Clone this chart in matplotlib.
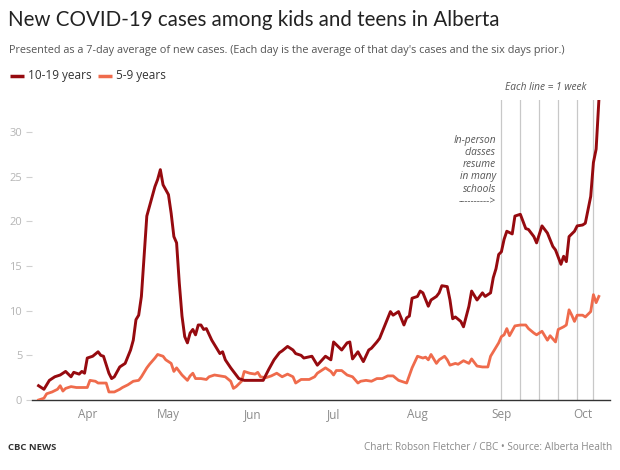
import pandas as pd
import matplotlib.pyplot as plt
import matplotlib.dates as mdates

# days counted from April 1 2020, 7-day average of new cases
days_teens = [-18, -16, -14, -12, -10, -8, -6, -5, -3, -2, -1, 0, 2, 4, 5, 6, 8, 9, 10, 12,
              14, 16, 17, 18, 19, 20, 21, 22, 24, 25, 26, 27, 28, 30, 31, 32, 33, 34, 35, 36,
              37, 38, 39, 40, 41, 42, 43, 44, 46, 47, 49, 50, 51, 53, 55, 56, 58, 60, 63, 65,
              67, 69, 71, 72, 74, 76, 77, 79, 80, 83, 85, 88, 90, 91, 94, 96, 97, 98, 100, 102,
              104, 105, 107, 108, 110, 112, 113, 115, 117, 118, 119, 120, 122, 123, 124, 126, 127, 129, 130, 131,
              133, 134, 135, 136, 138, 139, 141, 142, 144, 146, 147, 149, 150, 151, 152, 153, 154, 155, 157, 158,
              160, 162, 163, 165, 166, 168, 170, 172, 173, 175, 176, 177, 178, 180, 181, 183, 184, 186, 187, 188,
              189]
cases_teens = [1.6, 1.2, 2.2, 2.6, 2.8, 3.2, 2.6, 3.1, 2.9, 3.2, 3.0, 4.7, 4.9, 5.4, 5.0, 4.9, 3.0, 2.4, 2.6, 3.7,
               4.1, 5.6, 6.7, 9.0, 9.5, 11.6, 16.1, 20.6, 22.8, 23.9, 24.7, 25.8, 24.1, 23.0, 20.9, 18.3, 17.6, 13.1, 9.4, 7.1,
               6.4, 7.5, 7.9, 7.3, 8.4, 8.4, 7.9, 8.0, 6.7, 6.2, 5.2, 5.4, 4.5, 3.6, 2.8, 2.4, 2.2, 2.2, 2.2, 2.2,
               3.4, 4.5, 5.3, 5.5, 6.0, 5.6, 5.2, 5.0, 4.7, 4.9, 3.9, 4.9, 4.5, 6.5, 5.6, 6.4, 6.5, 4.6, 5.4, 4.3,
               5.6, 5.8, 6.5, 6.9, 8.4, 9.9, 9.5, 9.9, 8.4, 9.2, 9.4, 11.4, 11.6, 12.2, 12.0, 10.5, 11.2, 11.6, 12.0, 12.8,
               12.7, 11.2, 9.1, 9.3, 8.8, 8.2, 10.5, 12.2, 11.2, 12.0, 11.6, 12.0, 13.7, 14.7, 16.3, 16.6, 18.0, 18.9, 18.6, 20.6,
               20.8, 19.2, 19.1, 18.3, 17.6, 19.5, 18.7, 17.2, 16.8, 15.2, 16.1, 15.5, 18.3, 18.9, 19.5, 19.6, 19.8, 22.8, 26.6, 28.1,
               33.5]

days_kids = [-18, -16, -15, -13, -11, -10, -9, -8, -6, -4, -2, 0, 1, 3, 4, 6, 7, 8, 10, 12,
             13, 15, 17, 19, 20, 22, 23, 25, 26, 28, 29, 31, 32, 33, 35, 37, 38, 39, 40, 42,
             44, 45, 47, 49, 51, 53, 54, 55, 57, 58, 60, 62, 63, 64, 66, 68, 70, 72, 74, 76,
             77, 79, 80, 82, 84, 85, 88, 90, 91, 92, 94, 96, 98, 100, 101, 103, 105, 107, 109, 111,
             113, 115, 118, 120, 122, 124, 125, 126, 127, 129, 130, 132, 133, 134, 136, 137, 139, 141, 142, 144,
             146, 148, 149, 150, 152, 153, 154, 155, 156, 158, 160, 162, 163, 165, 166, 168, 170, 171, 173, 174,
             176, 177, 178, 179, 180, 181, 183, 184, 186, 187, 188, 189]
cases_kids = [0.0, 0.2, 0.7, 0.9, 1.2, 1.6, 1.0, 1.3, 1.5, 1.4, 1.4, 1.4, 2.2, 2.1, 1.9, 1.9, 1.9, 0.9, 0.9, 1.2,
              1.4, 1.7, 2.1, 2.2, 2.6, 3.6, 4.0, 4.7, 5.1, 4.9, 4.5, 4.1, 3.2, 3.6, 2.8, 2.2, 2.7, 3.0, 2.4, 2.4,
              2.3, 2.6, 2.8, 2.7, 2.6, 2.1, 1.3, 1.5, 2.1, 3.2, 3.0, 2.9, 3.1, 2.6, 2.5, 2.7, 3.0, 2.6, 2.9, 2.6,
              1.9, 2.3, 2.3, 2.3, 2.6, 3.0, 3.6, 3.2, 2.8, 3.3, 3.3, 2.8, 2.6, 1.9, 2.1, 2.2, 2.1, 2.4, 2.4, 2.7,
              2.7, 2.2, 1.9, 3.6, 4.9, 4.7, 4.8, 4.5, 5.1, 4.1, 4.5, 4.9, 4.5, 3.9, 4.1, 4.0, 4.4, 4.1, 4.6, 3.8,
              3.7, 3.7, 4.9, 5.4, 6.4, 7.1, 7.3, 8.0, 7.2, 8.3, 8.4, 8.4, 8.0, 7.5, 7.3, 7.7, 6.7, 7.2, 6.5, 7.9,
              8.2, 8.4, 10.1, 9.5, 8.8, 9.5, 9.5, 9.3, 9.9, 11.8, 10.9, 11.6]

week_lines = ['2020-09-01', '2020-09-08', '2020-09-15', '2020-09-22', '2020-09-29', '2020-10-05']

start = pd.Timestamp('2020-04-01')
dates_teens = start + pd.to_timedelta(days_teens, unit='D')
dates_kids = start + pd.to_timedelta(days_kids, unit='D')

dark = '#960a0f'
light = '#ef6b4c'
body_font = 'Open Sans'

fig = plt.figure(figsize=(6.2, 4.7), dpi=100)
ax = fig.add_axes([32 / 620, 70 / 470, 578 / 620, 300 / 470])

for d in week_lines:
    ax.axvline(pd.Timestamp(d), color='#c8c8c8', lw=0.9, zorder=1)

ax.plot(dates_kids, cases_kids, color=light, lw=2.0, zorder=3, solid_joinstyle='round')
ax.plot(dates_teens, cases_teens, color=dark, lw=2.1, zorder=4, solid_joinstyle='round')

ax.set_xlim(pd.Timestamp('2020-03-11 14:00'), pd.Timestamp('2020-10-11 03:00'))
ax.set_ylim(0, 33.6)
ax.set_yticks([0, 5, 10, 15, 20, 25, 30])

ax.xaxis.set_major_locator(mdates.MonthLocator(bymonth=range(4, 11)))
ax.xaxis.set_major_formatter(mdates.DateFormatter('%b'))
ax.tick_params(axis='x', length=0, pad=6, labelsize=8.5, labelcolor='#8a8a8a')
ax.tick_params(axis='y', length=4, width=0.8, color='#d0d0d0', pad=3, labelsize=8, labelcolor='#b5b5b5')
for lab in ax.get_xticklabels() + ax.get_yticklabels():
    lab.set_fontfamily(body_font)
ax.yaxis.get_major_ticks()[0].tick1line.set_color('#333333')

for side in ['top', 'right', 'left']:
    ax.spines[side].set_visible(False)
ax.spines['bottom'].set_color('#333333')
ax.spines['bottom'].set_linewidth(1.0)

# annotation for school start
ax.text(pd.Timestamp('2020-08-30'), 29.7,
        'In-person\nclasses\nresume\nin many\nschools\n---------->',
        ha='right', va='top', fontsize=7.3, style='italic', color='#555555',
        family=body_font, linespacing=1.15)

fig.text(546 / 620, 1 - 88 / 470, 'Each line = 1 week', ha='center', va='center',
         fontsize=7.3, style='italic', color='#555555', family=body_font)

fig.text(8 / 620, 1 - 20 / 470, 'New COVID-19 cases among kids and teens in Alberta',
         ha='left', va='center', fontsize=14.8, color='#222222', family='Lato')
fig.text(9 / 620, 1 - 50 / 470,
         "Presented as a 7-day average of new cases. (Each day is the average of that day's cases and the six days prior.)",
         ha='left', va='center', fontsize=7.85, color='#555555', family=body_font)

# legend
fig.add_artist(plt.Line2D([10 / 620, 24 / 620], [1 - 76 / 470] * 2, color=dark, lw=2.5,
                          solid_capstyle='butt'))
fig.text(28 / 620, 1 - 76 / 470, '10-19 years', ha='left', va='center', fontsize=8.5,
         color='#333333', family=body_font)
fig.add_artist(plt.Line2D([98 / 620, 112 / 620], [1 - 76 / 470] * 2, color=light, lw=2.5,
                          solid_capstyle='butt'))
fig.text(116 / 620, 1 - 76 / 470, '5-9 years', ha='left', va='center', fontsize=8.5,
         color='#333333', family=body_font)

fig.text(8 / 620, 1 - 447 / 470, 'CBC NEWS', ha='left', va='center', fontsize=6.8,
         weight='bold', color='#333333', family=body_font)
fig.text(612 / 620, 1 - 447 / 470, 'Chart: Robson Fletcher / CBC \u2022 Source: Alberta Health',
         ha='right', va='center', fontsize=7.2, color='#8a8a8a', family=body_font)

fig.savefig('out.png', dpi=100, facecolor='white')
